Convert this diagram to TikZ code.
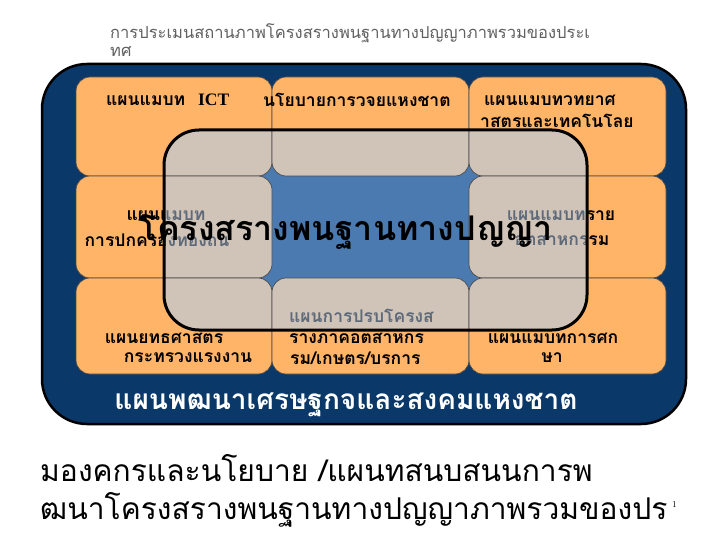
\documentclass[tikz,border=0pt]{standalone}
\usepackage{fontspec}
\newfontfamily\thai[Script=Thai]{Loma}
\newfontfamily\lserif{Liberation Serif}
\definecolor{navy}{HTML}{0A3868}
\definecolor{tileorange}{HTML}{FFB468}
\definecolor{tilegray}{HTML}{D0C4B8}
\definecolor{centerblue}{HTML}{4A7AB0}
\definecolor{tileline}{HTML}{4A4A4A}
\definecolor{textgray}{HTML}{5E6A7A}
\definecolor{titlegray}{HTML}{606060}
\newcommand\drawtiles[1]{%
  \foreach \xa/\xb/\ya/\yb in {76/272/77/176, 272/469/77/176, 469/666/77/176, 76/272/176/278, 469/666/176/278, 76/272/278/374, 272/469/278/374, 469/666/278/374}{%
    \draw[tile, fill=#1] (\xa,\ya) rectangle (\xb,\yb);}}
\newcommand\tiletexts[2]{%
  \node[tt, text=#1] (a#2) at (106,100) {แผนแมบท\hspace{13pt}{\lserif\bfseries ICT}};
  \node[tt, text=#1] (b#2) at (263,100) {นโยบายการวจยแหงชาต};
  \node[tt, text=#1] (c#2) at (484,100) {แผนแมบทวทยาศ};
  \node[tt, text=#1] (d#2) at (480,121) {าสตรและเทคโนโลย};
  \node[tt, text=#1, anchor=center] (e#2) at (166,216) {แผนแมบท};
  \node[tt, text=#1, anchor=center] (f#2) at (157,240) {การปกครองทองถน};
  \node[tt, text=#1, anchor=center] (g#2) at (561,216) {แผนแมบทราย};
  \node[tt, text=#1, anchor=center] (h#2) at (562,240) {อตสาหกรรม};
  \node[tt, text=#1, anchor=center] (i#2) at (164,338) {แผนยทธศาสตร};
  \node[tt, text=#1, anchor=center] (j#2) at (188,358) {กระทรวงแรงงาน};
  \node[tt, text=#1] (k#2) at (289,316) {แผนการปรบโครงส};
  \node[tt, text=#1] (l#2) at (289,338) {รางภาคอตสาหกร};
  \node[tt, text=#1] (m#2) at (290,358) {รม/เกษตร/บรการ};
  \node[tt, text=#1, anchor=center] (n#2) at (553,338) {แผนแมบทการศก};
  \node[tt, text=#1, anchor=center] (o#2) at (552,358) {ษา};
}
\begin{document}
\begin{tikzpicture}[x=1pt,y=-1pt,
  tile/.style={rounded corners=14pt, draw=tileline, line width=0.7pt},
  tt/.style={font=\thai\bfseries\fontsize{17.5}{20}\selectfont, inner sep=0pt, anchor=west}]
\useasboundingbox[fill=white] (0,0) rectangle (720,540);
% title
\node[anchor=west, inner sep=0pt, text=titlegray, font=\thai\fontsize{16.5}{18}\selectfont] (title1) at (110,33) {การประเมนสถานภาพโครงสรางพนฐานทางปญญาภาพรวมของประเ};
\node[anchor=west, inner sep=0pt, text=titlegray, font=\thai\fontsize{16.5}{18}\selectfont] (title2) at (110,52) {ทศ};
% outer frame
\draw[fill=navy, draw=black, line width=2.5pt, rounded corners=45pt] (42,64) rectangle (686,424);
% tiles
\drawtiles{tileorange}
\tiletexts{black}{o}
% inner window
\begin{scope}
  \clip[rounded corners=35pt] (164,130) rectangle (587,330);
  \fill[centerblue] (164,130) rectangle (587,330);
  \drawtiles{tilegray}
  \tiletexts{textgray}{g}
\end{scope}
\draw[black, line width=3pt, rounded corners=35pt] (164,130) rectangle (587,330);
% central title
\node[inner sep=0pt, font=\thai\bfseries\fontsize{34}{38}\selectfont] (core) at (346,232) {โครงสรางพนฐานทางปญญา};
% banner
\node[inner sep=0pt, text=white, font=\thai\bfseries\fontsize{28}{32}\selectfont] (banner) at (346,405) {แผนพฒนาเศรษฐกจและสงคมแหงชาต};
% caption
\node[anchor=west, inner sep=0pt, font=\thai\fontsize{30}{34}\selectfont] (cap1) at (40,468) {มองคกรและนโยบาย /แผนทสนบสนนการพ};
\node[anchor=west, inner sep=0pt, font=\thai\fontsize{30}{34}\selectfont] (cap2) at (40,510) {ฒนาโครงสรางพนฐานทางปญญาภาพรวมของปร};
\node[anchor=west, inner sep=0pt, font=\fontsize{9}{10}\selectfont] (pgnum) at (672,504) {1};
\end{tikzpicture}
\end{document}
